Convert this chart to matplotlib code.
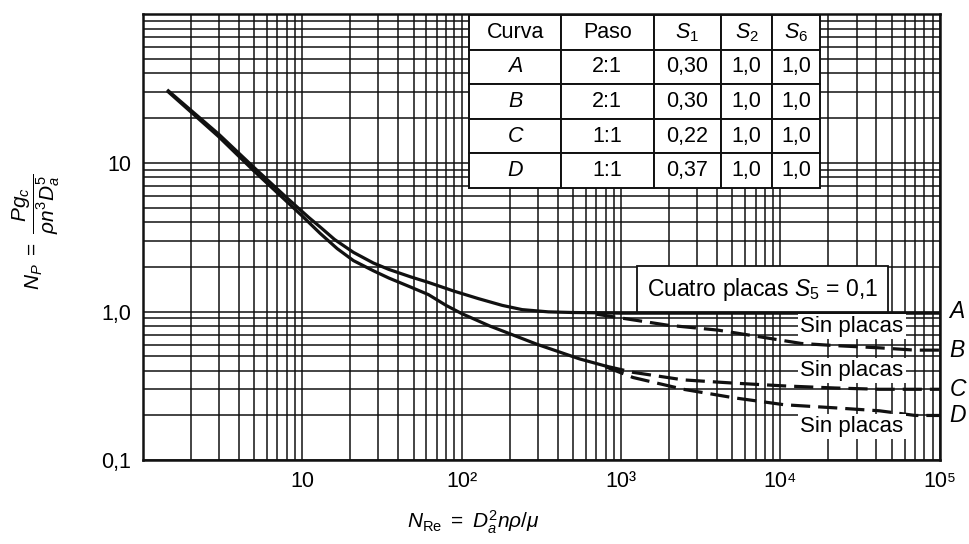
import matplotlib.pyplot as plt
from matplotlib.ticker import NullFormatter
import matplotlib.transforms as mtransforms

plt.rcParams['font.family'] = ['Liberation Sans', 'DejaVu Sans']
plt.rcParams['mathtext.fontset'] = 'custom'
plt.rcParams['mathtext.rm'] = 'Liberation Sans'
plt.rcParams['mathtext.it'] = 'Liberation Sans:italic'

# curva superior (con placas -> A)
re_a = [1.45, 3, 5, 8, 11, 13, 16, 21, 28, 35, 48, 62, 90, 128, 180, 240, 350, 500, 1000, 10000, 100000]
np_a = [30.5, 15.6, 9.3, 5.84, 4.3, 3.7, 3.05, 2.5, 2.12, 1.92, 1.71, 1.57, 1.37, 1.22, 1.1, 1.03, 0.995, 0.985, 0.975, 0.975, 0.975]
# curva inferior (tramo comun C/D)
re_cd = [1.45, 3, 5, 8, 10, 13, 16.6, 21, 28, 35, 48, 62, 80, 100, 150, 207, 300, 400, 550, 800]
np_cd = [30.0, 15.0, 8.8, 5.5, 4.4, 3.35, 2.65, 2.2, 1.88, 1.68, 1.46, 1.3, 1.1, 0.97, 0.8, 0.7, 0.6, 0.54, 0.48, 0.43]
# tramos discontinuos (sin placas)
re_b = [700, 1950, 4050, 6600, 13500, 22000, 41700, 70000, 100000]
np_b = [0.96, 0.81, 0.75, 0.69, 0.61, 0.59, 0.57, 0.55, 0.55]
re_c = [800, 1190, 2460, 5100, 10600, 22000, 41700, 100000]
np_c = [0.43, 0.39, 0.347, 0.33, 0.316, 0.306, 0.30, 0.30]
re_d = [800, 1190, 2460, 5100, 10600, 22000, 41700, 70000, 100000]
np_d = [0.425, 0.36, 0.30, 0.263, 0.236, 0.225, 0.215, 0.20, 0.20]

curve_labels = ['A', 'B', 'C', 'D']
curve_label_y = [1.0, 0.55, 0.30, 0.20]

table_header = ['Curva', 'Paso', '$S_1$', '$S_2$', '$S_6$']
table_rows = [
    ['A', '2:1', '0,30', '1,0', '1,0'],
    ['B', '2:1', '0,30', '1,0', '1,0'],
    ['C', '1:1', '0,22', '1,0', '1,0'],
    ['D', '1:1', '0,37', '1,0', '1,0'],
]
col_widths = [91, 92, 67, 51, 47]

fig, ax = plt.subplots(figsize=(9.7, 5.44), dpi=100)
fig.subplots_adjust(left=0.147, right=0.969, bottom=0.154, top=0.974)
ax.set_xscale('log')
ax.set_yscale('log')
ax.set_xlim(1, 1e5)
ax.set_ylim(0.1, 100)

ax.grid(True, which='both', color='#111111', lw=1.1)
ax.set_axisbelow(True)
ax.tick_params(which='both', length=0, labelsize=15.5, pad=8)
ax.set_xticks([10, 100, 1000, 1e4, 1e5])
ax.set_xticklabels(['10', '10²', '10³', '10⁴', '10⁵'])
ax.set_yticks([0.1, 1, 10])
ax.set_yticklabels(['0,1', '1,0', '10'])
ax.xaxis.set_minor_formatter(NullFormatter())
ax.yaxis.set_minor_formatter(NullFormatter())
for sp in ax.spines.values():
    sp.set_linewidth(1.8)
    sp.set_color('#111111')

lw = 2.3
ax.plot(re_a, np_a, color='#111111', lw=lw, zorder=3)
ax.plot(re_cd, np_cd, color='#111111', lw=lw, zorder=3)
for x, y in [(re_b, np_b), (re_c, np_c), (re_d, np_d)]:
    ax.plot(x, y, color='#111111', lw=lw, ls=(0, (6, 2.5)), zorder=3)

# etiquetas de curvas a la derecha
trans = mtransforms.blended_transform_factory(ax.transAxes, ax.transData)
for lab, y in zip(curve_labels, curve_label_y):
    ax.text(1.012, y, lab, transform=trans, fontsize=16.5, fontstyle='italic',
            va='center', ha='left', clip_on=False)

# textos "Sin placas"
for y in [0.79, 0.40, 0.169]:
    ax.text(28000, y, 'Sin placas', fontsize=16, ha='center', va='center', zorder=4,
            bbox=dict(boxstyle='square,pad=0.1', fc='white', ec='none'))

ax.text(7700, 1.41, 'Cuatro placas $S_5$ = 0,1', fontsize=16.5, ha='center', va='center',
        zorder=4, bbox=dict(boxstyle='square,pad=0.42', fc='white', ec='#111111', lw=1.3))

# tabla
tbl = ax.table(cellText=table_rows, colLabels=table_header, cellLoc='center',
               bbox=[0.410, 0.610, 0.439, 0.388], zorder=5)
tbl.auto_set_font_size(False)
tbl.set_fontsize(15.5)
for (r, c), cell in tbl.get_celld().items():
    cell.set_width(col_widths[c])
    cell.set_edgecolor('#111111')
    cell.set_linewidth(1.4)
    cell.set_facecolor('white')
    if r > 0 and c == 0:
        cell.get_text().set_fontstyle('italic')

fig.text(473 / 970, 1 - 522 / 544, r'$N_{\mathrm{Re}}\ =\ D_a^2n\rho/\mu$',
         fontsize=15, ha='center', va='center')
fig.text(36 / 970, 1 - 232 / 544, r'$N_P\ =\ \dfrac{Pg_c}{\rho n^3D_a^5}$',
         fontsize=15, ha='center', va='center', rotation=90)

plt.savefig('out.png', dpi=100)
